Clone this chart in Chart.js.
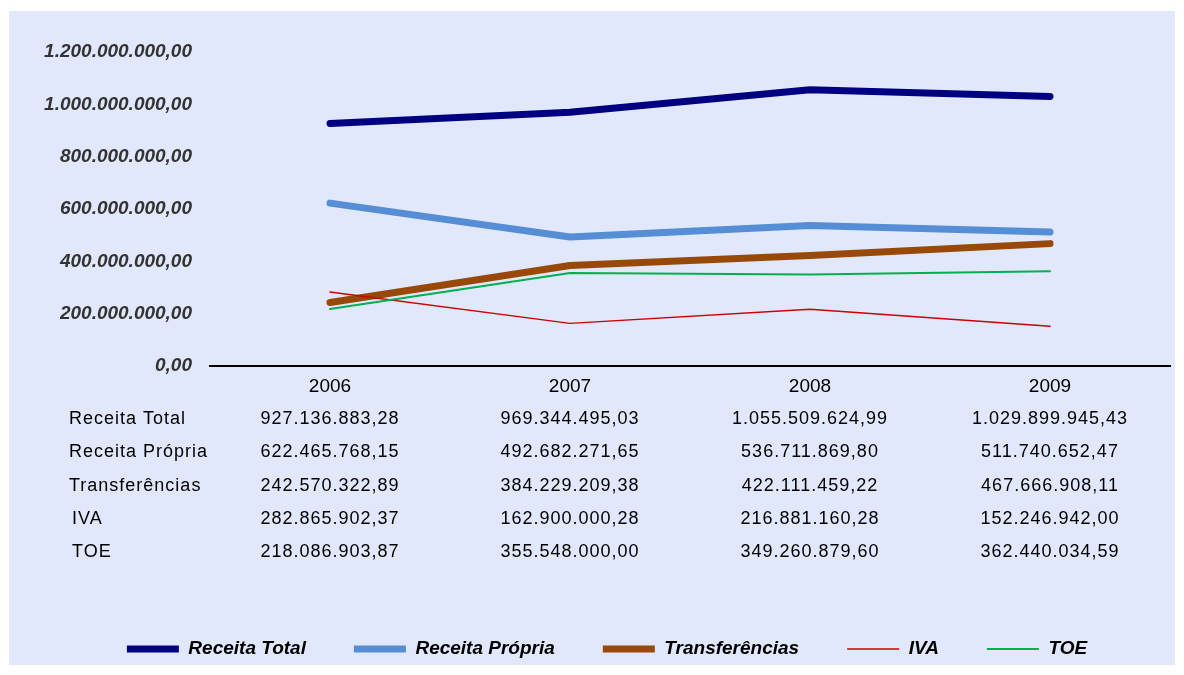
<!DOCTYPE html>
<html>
<head>
<meta charset="utf-8">
<script src="https://cdn.jsdelivr.net/npm/chart.js@4/dist/chart.umd.min.js"></script>
<style>
  html, body { margin: 0; padding: 0; background: #fff; }
  #wrap { width: 1184px; height: 675px; position: relative; }
</style>
</head>
<body>
<div id="wrap"><canvas id="receitaChart"></canvas></div>
<script>
const years = ['2006', '2007', '2008', '2009'];
const seriesNames = ['Receita Total', 'Receita Própria', 'Transferências', 'IVA', 'TOE'];
const receitaTotal = [927136883.28, 969344495.03, 1055509624.99, 1029899945.43];
const receitaPropria = [622465768.15, 492682271.65, 536711869.80, 511740652.47];
const transferencias = [242570322.89, 384229209.38, 422111459.22, 467666908.11];
const iva = [282865902.37, 162900000.28, 216881160.28, 152246942.00];
const toe = [218086903.87, 355548000.00, 349260879.60, 362440034.59];
const yTickLabels = ['0,00', '200.000.000,00', '400.000.000,00', '600.000.000,00',
  '800.000.000,00', '1.000.000.000,00', '1.200.000.000,00'];

const seriesValues = [receitaTotal, receitaPropria, transferencias, iva, toe];
const seriesColors = ['#000080', '#558ED5', '#984807', '#CC0000', '#00B050'];
const seriesWidths = [7, 7, 7, 1.5, 2];

// 1234567.8 -> "1.234.567,80"
function fmt(v) {
  const [int, dec] = v.toFixed(2).split('.');
  return int.replace(/\B(?=(\d{3})+(?!\d))/g, '.') + ',' + dec;
}

const LEGEND_PAD = 48;

const background = {
  id: 'background',
  beforeDraw(chart) {
    const ctx = chart.ctx;
    ctx.save();
    ctx.fillStyle = '#E2E8FB';
    ctx.fillRect(9, 11, 1166, 654);
    ctx.restore();
  }
};

// keep the legend row near the bottom edge whatever the item padding is
const legendHeight = {
  id: 'legendHeight',
  beforeInit(chart) {
    const orig = chart.legend.fit;
    chart.legend.fit = function () {
      orig.bind(chart.legend)();
      this.height = 675 - 639.5 + LEGEND_PAD;
    };
  }
};

const dataTable = {
  id: 'dataTable',
  afterDraw(chart) {
    const ctx = chart.ctx;
    const x = chart.scales.x;
    const rowY = [419, 452, 486, 519, 552];
    ctx.save();
    ctx.font = '18px "Liberation Sans", Arial, sans-serif';
    ctx.letterSpacing = '1px';
    ctx.fillStyle = '#000';
    ctx.textBaseline = 'middle';
    seriesNames.forEach((name, r) => {
      ctx.textAlign = 'left';
      ctx.fillText(name, r >= 3 ? 72 : 69, rowY[r]);
      ctx.textAlign = 'center';
      seriesValues[r].forEach((v, i) => {
        ctx.fillText(fmt(v), x.getPixelForValue(i), rowY[r]);
      });
    });
    ctx.restore();
  }
};

new Chart(document.getElementById('receitaChart'), {
  type: 'line',
  data: {
    labels: years,
    datasets: seriesNames.map((name, i) => ({
      label: name,
      data: seriesValues[i],
      borderColor: seriesColors[i],
      backgroundColor: seriesColors[i],
      borderWidth: seriesWidths[i],
      borderCapStyle: 'round',
      borderJoinStyle: 'round',
      pointRadius: 0,
      tension: 0,
      order: seriesNames.length - i,
    })),
  },
  options: {
    responsive: true,
    maintainAspectRatio: false,
    animation: false,
    layout: { padding: { top: 52, left: 44, right: 14, bottom: 0 } },
    plugins: {
      tooltip: { enabled: false },
      legend: {
        position: 'bottom',
        labels: {
          usePointStyle: true,
          pointStyle: 'line',
          pointStyleWidth: 52,
          padding: LEGEND_PAD,
          color: '#000',
          font: { family: '"Liberation Sans", Arial, sans-serif', size: 19, weight: 'bold', style: 'italic' },
          sort: (a, b) => a.datasetIndex - b.datasetIndex,
        },
      },
    },
    scales: {
      x: {
        offset: true,
        grid: { display: false, drawTicks: false },
        border: { display: true, color: '#000', width: 2 },
        ticks: {
          color: '#000',
          padding: 9,
          font: { family: '"Liberation Sans", Arial, sans-serif', size: 19 },
        },
        afterFit(scale) { scale.height = 639.5 - LEGEND_PAD - 366; },
      },
      y: {
        min: 0,
        max: 1200000000,
        grid: { display: false, drawTicks: false },
        border: { display: false },
        ticks: {
          stepSize: 200000000,
          padding: 18,
          color: '#333',
          font: { family: '"Liberation Sans", Arial, sans-serif', size: 19, weight: 'bold', style: 'italic' },
          callback: (v, i) => yTickLabels[i],
        },
        afterFit(scale) { scale.width = 166; },
      },
    },
  },
  plugins: [background, legendHeight, dataTable],
});
</script>
</body>
</html>
